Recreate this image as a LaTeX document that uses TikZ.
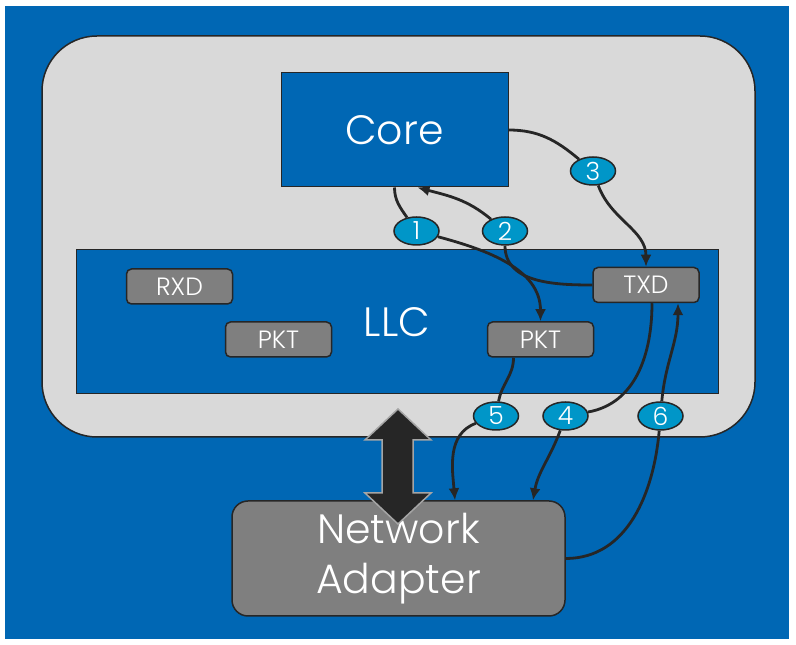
\documentclass[tikz,border=0pt]{standalone}
\usepackage{fontspec}
\setmainfont{Poppins}[UprightFont=* Light]
\usepackage{tikz}
\usetikzlibrary{arrows.meta,shapes.geometric}
\definecolor{bgblue}{RGB}{0,103,180}
\definecolor{panelgrey}{RGB}{217,217,217}
\definecolor{boxgrey}{RGB}{127,127,127}
\definecolor{stepteal}{RGB}{0,150,200}
\definecolor{inkdark}{RGB}{38,38,38}
\tikzset{
  bigblk/.style ={draw=inkdark, fill=bgblue, line width=1pt, text=white,
                  font=\fontsize{41}{44}\selectfont, inner sep=0pt},
  tag/.style    ={draw=inkdark, fill=boxgrey, line width=1.5pt, rounded corners=5pt,
                  text=white, font=\fontsize{25}{26}\selectfont,
                  minimum width=106pt, minimum height=35pt, inner sep=0pt},
  num/.style    ={ellipse, draw=inkdark, fill=stepteal, line width=1.5pt, text=white,
                  font=\fontsize{25}{26}\selectfont, minimum width=45pt,
                  minimum height=28pt, inner sep=0pt},
  link/.style   ={draw=inkdark, line width=2.8pt},
  ar/.style     ={link, -{Latex[length=12pt,width=11pt]}},
}
\begin{document}
\begin{tikzpicture}[x=1pt,y=1pt]
\useasboundingbox (0,0) rectangle (796,645);
% ---------- background and frame ----------
\fill[bgblue] (5,6) rectangle (789,639);
\draw[draw=inkdark,fill=panelgrey,line width=1.5pt,rounded corners=55pt]
  (42,208) rectangle (755,609);

% ---------- blocks ----------
\node[bigblk,minimum width=227pt,minimum height=114pt] (core) at (394.5,515) {Core};
\node[bigblk,minimum width=642pt,minimum height=144pt] (llc) at (397,323) {LLC};
\node[tag] (rxd)  at (179.5,358.5) {RXD};
\node[tag] (pkta) at (278.5,305.5) {PKT};
\node[tag] (pktb) at (540.5,305.5) {PKT};
\node[tag] (txd)  at (646,360) {TXD};
\node[draw=inkdark,fill=boxgrey,line width=1.5pt,rounded corners=16pt,text=white,
      align=center,font=\fontsize{41}{50}\selectfont,minimum width=333pt,
      minimum height=115pt] (nic) at (398.5,86.5) {Network\\Adapter};

% ---------- step labels ----------
\node[num] (n1) at (416.5,414) {1};
\node[num] (n2) at (505,414) {2};
\node[num] (n3) at (593,474) {3};
\node[num] (n4) at (565.5,229) {4};
\node[num] (n5) at (496,229) {5};
\node[num] (n6) at (660.5,229) {6};

% ---------- flows ----------
\draw[link] (core.south) to[out=-90,in=125] (n1);
\draw[ar] (n1) to[out=-15,in=90] (pktb.north);
\draw[link] (txd.west) to[out=180,in=-90] (n2);
\draw[ar] (n2) to[out=140,in=-15] ([xshift=23pt]core.south);
\draw[link] (core.east) to[out=0,in=140] (n3);
\draw[ar] (n3) to[out=-70,in=90] (txd.north);
\draw[link] ([xshift=6pt]txd.south) to[out=-90,in=10] (n4);
\draw[ar] (n4) to[out=-110,in=80] ([xshift=134.5pt]nic.north);
\draw[link] ([xshift=-27pt]pktb.south) to[out=-90,in=80] (n5);
\draw[ar] (n5) to[out=-160,in=95] ([xshift=56.5pt]nic.north);
\draw[link] (nic.east) to[out=0,in=-95] (n6);
\draw[ar] (n6) to[out=85,in=-90] ([xshift=32pt]txd.south);

% ---------- memory access arrow ----------
\draw[fill=inkdark,draw=boxgrey!70,line width=1.5pt]
  (398,236) -- (431,205) -- (413,205) -- (413,152) -- (431,152) -- (398,121)
  -- (365,152) -- (382,152) -- (382,205) -- (365,205) -- cycle;
\end{tikzpicture}
\end{document}
